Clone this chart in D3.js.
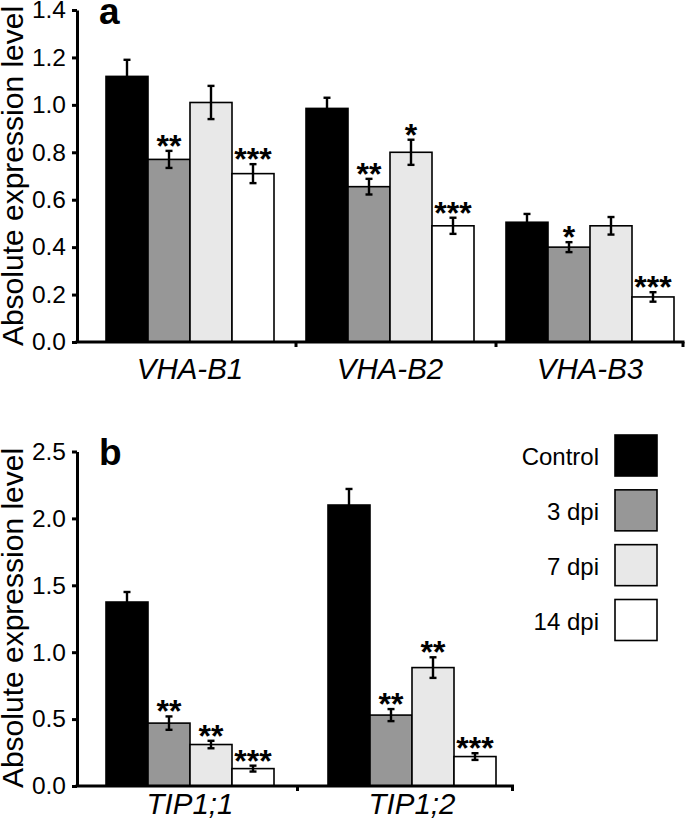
<!DOCTYPE html>
<html>
<head>
<meta charset="utf-8">
<script src="https://cdn.jsdelivr.net/npm/d3@7/dist/d3.min.js"></script>
<style>
  html, body { margin: 0; padding: 0; background: #fff; }
  svg { display: block; font-family: "Liberation Sans", Arial, sans-serif; }
</style>
</head>
<body>
<svg id="chart" width="685" height="824"></svg>
<script>
// ---------- DATA ----------
const seriesNames = ["Control", "3 dpi", "7 dpi", "14 dpi"];
const seriesColors = ["#000000", "#979797", "#e8e8e8", "#ffffff"];

// Panel a
const categoriesA = ["VHA-B1", "VHA-B2", "VHA-B3"];
const controlA = [1.12, 0.985, 0.505];
const dpi3A = [0.77, 0.655, 0.40];
const dpi7A = [1.01, 0.80, 0.49];
const dpi14A = [0.71, 0.49, 0.19];
const errControlA = [0.07, 0.045, 0.035];
const err3A = [0.036, 0.033, 0.021];
const err7A = [0.07, 0.053, 0.037];
const err14A = [0.04, 0.034, 0.02];
const starsControlA = ["", "", ""];
const stars3A = ["**", "**", "*"];
const stars7A = ["", "*", ""];
const stars14A = ["***", "***", "***"];
const ticksA = [0.0, 0.2, 0.4, 0.6, 0.8, 1.0, 1.2, 1.4];

// Panel b
const categoriesB = ["TIP1;1", "TIP1;2"];
const controlB = [1.375, 2.10];
const dpi3B = [0.47, 0.53];
const dpi7B = [0.31, 0.885];
const dpi14B = [0.13, 0.22];
const errControlB = [0.075, 0.12];
const err3B = [0.05, 0.045];
const err7B = [0.028, 0.077];
const err14B = [0.022, 0.025];
const starsControlB = ["", ""];
const stars3B = ["**", "**"];
const stars7B = ["**", "**"];
const stars14B = ["***", "***"];
const ticksB = [0.0, 0.5, 1.0, 1.5, 2.0, 2.5];

const yTitle = "Absolute expression level";

// ---------- DRAW ----------
const svg = d3.select("#chart");

function panel(cfg) {
  const g = svg.append("g");
  const y = d3.scaleLinear().domain(cfg.yDomain).range([cfg.yBottom, cfg.yTop]);
  const x = d3.scaleBand().domain(cfg.categories).range(cfg.xRange);
  const sub = d3.scaleBand().domain(seriesNames).range([0, 168]);
  const vals = cfg.values, errs = cfg.errors, stars = cfg.stars;

  const rows = [];
  cfg.categories.forEach((c, i) => {
    seriesNames.forEach((s, j) => {
      rows.push({ c, s, j, v: vals[j][i], e: errs[j][i], st: stars[j][i] });
    });
  });

  const bx = d => x(d.c) + cfg.groupOffset + sub(d.s);
  const bw = sub.bandwidth();

  // bars
  g.selectAll("rect.bar").data(rows).join("rect")
    .attr("class", "bar")
    .attr("x", bx)
    .attr("y", d => y(d.v))
    .attr("width", bw)
    .attr("height", d => y(0) - y(d.v))
    .attr("fill", d => seriesColors[d.j])
    .attr("stroke", "#000")
    .attr("stroke-width", 1.6);

  // error bars
  const eg = g.selectAll("g.err").data(rows).join("g").attr("class", "err")
    .attr("stroke", "#000").attr("stroke-width", 2.4);
  eg.append("line")
    .attr("x1", d => bx(d) + bw / 2).attr("x2", d => bx(d) + bw / 2)
    .attr("y1", d => y(d.v + d.e)).attr("y2", d => y(d.v - d.e));
  eg.append("line")
    .attr("x1", d => bx(d) + bw / 2 - 3.5).attr("x2", d => bx(d) + bw / 2 + 3.5)
    .attr("y1", d => y(d.v + d.e)).attr("y2", d => y(d.v + d.e));
  eg.append("line")
    .attr("x1", d => bx(d) + bw / 2 - 3.5).attr("x2", d => bx(d) + bw / 2 + 3.5)
    .attr("y1", d => y(d.v - d.e)).attr("y2", d => y(d.v - d.e));

  // stars
  g.selectAll("text.star").data(rows.filter(d => d.st)).join("text")
    .attr("class", "star")
    .attr("x", d => bx(d) + bw / 2)
    .attr("y", d => y(d.v + d.e) + 6)
    .attr("text-anchor", "middle")
    .attr("font-weight", "bold")
    .attr("font-size", 32)
    .text(d => d.st);

  // y axis
  const ax = g.append("g")
    .attr("transform", `translate(${cfg.axisX},0)`)
    .call(d3.axisLeft(y).tickValues(cfg.ticks).tickFormat(d3.format(".1f"))
      .tickSizeInner(5).tickSizeOuter(0).tickPadding(6));
  ax.select(".domain").attr("stroke-width", 3);
  ax.selectAll(".tick line").attr("stroke-width", 3);
  ax.selectAll(".tick text").attr("font-size", 24.5)
    .attr("font-family", "'Liberation Sans', Arial, sans-serif").attr("fill", "#000");

  // x axis
  const yb = y(0);
  g.append("line").attr("x1", cfg.axisX - 1.5).attr("x2", cfg.xEnd)
    .attr("y1", yb).attr("y2", yb).attr("stroke", "#000").attr("stroke-width", 3);
  const tickXs = cfg.categories.slice(1).map(c => x(c)).concat([cfg.xEnd - 1.5]);
  g.selectAll("line.xt").data(tickXs).join("line").attr("class", "xt")
    .attr("x1", d => d).attr("x2", d => d)
    .attr("y1", yb).attr("y2", yb + 5)
    .attr("stroke", "#000").attr("stroke-width", 3);

  // category labels
  g.selectAll("text.cat").data(cfg.categories).join("text").attr("class", "cat")
    .attr("x", c => x(c) + cfg.groupOffset + 84)
    .attr("y", cfg.catY)
    .attr("text-anchor", "middle")
    .attr("font-style", "italic")
    .attr("font-size", 29.5)
    .text(c => c);

  // y title
  g.append("text")
    .attr("transform", `translate(23,${cfg.titleY}) rotate(-90)`)
    .attr("text-anchor", "middle")
    .attr("font-size", 30)
    .text(yTitle);

  // panel letter
  g.append("text")
    .attr("x", 99).attr("y", cfg.letterY)
    .attr("font-weight", "bold").attr("font-size", 37)
    .text(cfg.letter);
}

panel({
  categories: categoriesA,
  values: [controlA, dpi3A, dpi7A, dpi14A],
  errors: [errControlA, err3A, err7A, err14A],
  stars: [starsControlA, stars3A, stars7A, stars14A],
  ticks: ticksA,
  yDomain: [0, 1.4], yBottom: 342, yTop: 10,
  xRange: [96, 696], groupOffset: 10, axisX: 77, xEnd: 684.5,
  catY: 379, titleY: 176, letter: "a", letterY: 24
});

panel({
  categories: categoriesB,
  values: [controlB, dpi3B, dpi7B, dpi14B],
  errors: [errControlB, err3B, err7B, err14B],
  stars: [starsControlB, stars3B, stars7B, stars14B],
  ticks: ticksB,
  yDomain: [0, 2.5], yBottom: 786, yTop: 451.5,
  xRange: [75.5, 519.5], groupOffset: 30.5, axisX: 77, xEnd: 514,
  catY: 814, titleY: 618, letter: "b", letterY: 465
});

// legend
const lg = svg.append("g");
const legY = d3.scalePoint().domain(seriesNames).range([435, 599.5]);
lg.selectAll("rect").data(seriesNames).join("rect")
  .attr("x", 615).attr("y", d => legY(d))
  .attr("width", 42).attr("height", 41)
  .attr("fill", (d, i) => seriesColors[i])
  .attr("stroke", "#000").attr("stroke-width", 1.6);
lg.selectAll("text").data(seriesNames).join("text")
  .attr("x", 599).attr("y", d => legY(d) + 30)
  .attr("text-anchor", "end")
  .attr("font-size", 24)
  .text(d => d);
</script>
</body>
</html>
